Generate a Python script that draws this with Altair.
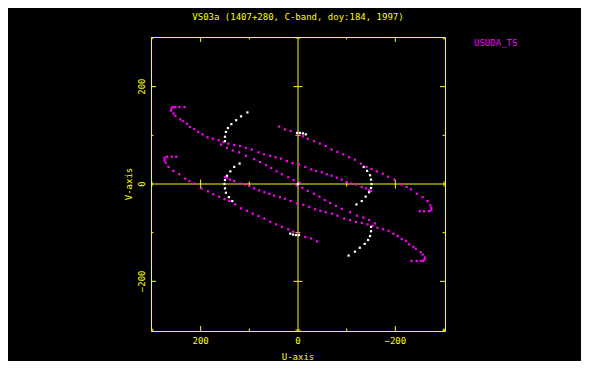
import altair as alt
import pandas as pd

# ---- data (one half of each track; conjugate (-u,-v) added below)
trk1_u = [233, 244, 252, 257, 260, 261, 256, 252, 242, 237, 228, 222, 213, 205, 196, 186, 175, 163, 153, 143,
          131, 119, 107, 95, 81, 70, 57, 46, 35, 23, 11, -2, -15, -27, -37, -49, -59, -69, -80, -90,
          -100, -109, -119, -131, -140, -146, -150]
trk1_v = [158, 158, 158, 158, 155, 151, 145, 140, 133, 129, 124, 117, 113, 107, 102, 96, 93, 90, 86, 83,
          80, 78, 74, 71, 65, 61, 58, 55, 52, 47, 43, 40, 35, 30, 27, 24, 20, 17, 13, 9,
          4, 1, -1, -6, -9, -13, -14]

trk2_u = [250, 259, 269, 274, 274, 272, 266, 256, 244, 232, 223, 213, 198, 185, 174, 162, 151, 141, 129, 117,
          105, 93, 81, 69, 57, 45, 33, 20, 10, -1, -15, -27, -39]
trk2_v = [56, 56, 56, 54, 49, 44, 35, 27, 20, 11, 6, 1, -9, -15, -21, -26, -31, -35, -42, -50,
          -55, -61, -66, -71, -78, -83, -88, -93, -98, -102, -109, -112, -118]

trk3_u = [158, 146, 134, 121, 107, 90, 78, 66, 55, 44, 33, 20, 9, -3]
trk3_v = [81, 74, 69, 65, 58, 51, 45, 39, 33, 26, 20, 14, 8, 3]

white_u = [104, 117, 127, 137, 144, 148, 150, 150, 120, 131, 139, 146, 150, 151, 150, 148, 142, 135, 2, -4, -10, -16, 0]
white_v = [147, 139, 131, 123, 115, 107, 97, 88, 42, 35, 26, 17, 8, 0, -9, -18, -27, -35, 105, 105, 104, 102, 0]

tick_labels = [-200, 0, 200]
major_ticks = [-200, 200]
minor_ticks = [-300, -100, 100, 300]
title_text = "VS03a (1407+280, C-band, doy:184, 1997)"
station = "USUDA_TS"
x_title = "U-axis"
y_title = "V-axis"

YEL = "#ffff00"
MAG = "#ff00ff"
WHT = "#ffffff"
FONT = "DejaVu Sans Mono"
W = H = 294

rows = []
for us, vs, grp in [(trk1_u, trk1_v, station), (trk2_u, trk2_v, station),
                    (trk3_u, trk3_v, station), (white_u, white_v, "other")]:
    for u, v in zip(us, vs):
        rows.append({"u": u, "v": v, "grp": grp})
        rows.append({"u": -u, "v": -v, "grp": grp})
pts = pd.DataFrame(rows)

xs = alt.Scale(domain=[-302, 302], reverse=True, nice=False, zero=False)
ys = alt.Scale(domain=[-302, 302], nice=False, zero=False)

points = alt.Chart(pts).mark_square(size=5, opacity=1).encode(
    x=alt.X("u:Q", scale=xs, axis=None),
    y=alt.Y("v:Q", scale=ys, axis=None),
    color=alt.Color("grp:N", scale=alt.Scale(domain=[station, "other"], range=[MAG, WHT]), legend=None),
)

zero_df = pd.DataFrame({"z": [0]})
vline = alt.Chart(zero_df).mark_rule(color=YEL, strokeWidth=1).encode(x=alt.X("z:Q", scale=xs, axis=None))
hline = alt.Chart(zero_df).mark_rule(color=YEL, strokeWidth=1).encode(y=alt.Y("z:Q", scale=ys, axis=None))


def tick_layers(vals, L, Lc):
    df = pd.DataFrame({"t": vals, "z": [0] * len(vals)})
    base = alt.Chart(df)
    tx = alt.X("t:Q", scale=xs, axis=None)
    ty = alt.Y("t:Q", scale=ys, axis=None)
    return [
        base.mark_rule(color=YEL).encode(x=tx, y=alt.value(H), y2=alt.value(H - L)),
        base.mark_rule(color=YEL).encode(x=tx, y=alt.value(0), y2=alt.value(L)),
        base.mark_rule(color=YEL).encode(y=ty, x=alt.value(0), x2=alt.value(L)),
        base.mark_rule(color=YEL).encode(y=ty, x=alt.value(W), x2=alt.value(W - L)),
        base.mark_rule(color=YEL, yOffset=-Lc, y2Offset=Lc).encode(
            x=tx, y=alt.Y("z:Q", scale=ys, axis=None), y2="z:Q"),
        base.mark_rule(color=YEL, xOffset=-Lc, x2Offset=Lc).encode(
            y=ty, x=alt.X("z:Q", scale=xs, axis=None), x2="z:Q"),
    ]


ticks = tick_layers(major_ticks, 5, 4.5) + tick_layers(minor_ticks, 2.5, 2.5)

lab_df = pd.DataFrame({"t": tick_labels})
x_labels = alt.Chart(lab_df).mark_text(
    color=YEL, font=FONT, fontSize=9, align="center", baseline="alphabetic"
).encode(x=alt.X("t:Q", scale=xs, axis=None), y=alt.value(H + 12.5), text=alt.Text("t:Q", format="d"))
y_labels = alt.Chart(lab_df).mark_text(
    color=YEL, font=FONT, fontSize=9, align="center", baseline="alphabetic", angle=270
).encode(y=alt.Y("t:Q", scale=ys, axis=None), x=alt.value(-6), text=alt.Text("t:Q", format="d"))

x_tt = alt.Chart(pd.DataFrame({"s": [x_title]})).mark_text(
    color=YEL, font=FONT, fontSize=9, align="center", baseline="alphabetic"
).encode(x=alt.value(W / 2), y=alt.value(H + 29), text="s:N")
y_tt = alt.Chart(pd.DataFrame({"s": [y_title]})).mark_text(
    color=YEL, font=FONT, fontSize=9, align="center", baseline="alphabetic", angle=270
).encode(y=alt.value(H / 2), x=alt.value(-19.5), text="s:N")

title = alt.Chart(pd.DataFrame({"s": [title_text]})).mark_text(
    color=YEL, font=FONT, fontSize=9, align="center", baseline="alphabetic"
).encode(x=alt.value(W / 2), y=alt.value(-17), text="s:N")

legend = alt.Chart(pd.DataFrame({"s": [station]})).mark_text(
    color=MAG, font=FONT, fontSize=9, align="left", baseline="alphabetic"
).encode(x=alt.value(323), y=alt.value(8.5), text="s:N")

chart = alt.layer(vline, hline, *ticks, points, x_labels, y_labels, x_tt, y_tt, title, legend).properties(
    width=W, height=H, background="black",
    autosize=alt.AutoSizeParams(type="none"),
    padding={"left": 143, "top": 29, "right": 136, "bottom": 30},
).configure_view(
    stroke=YEL, strokeWidth=1
)

chart.save("out.html", embed_options={"renderer": "svg", "actions": False})
